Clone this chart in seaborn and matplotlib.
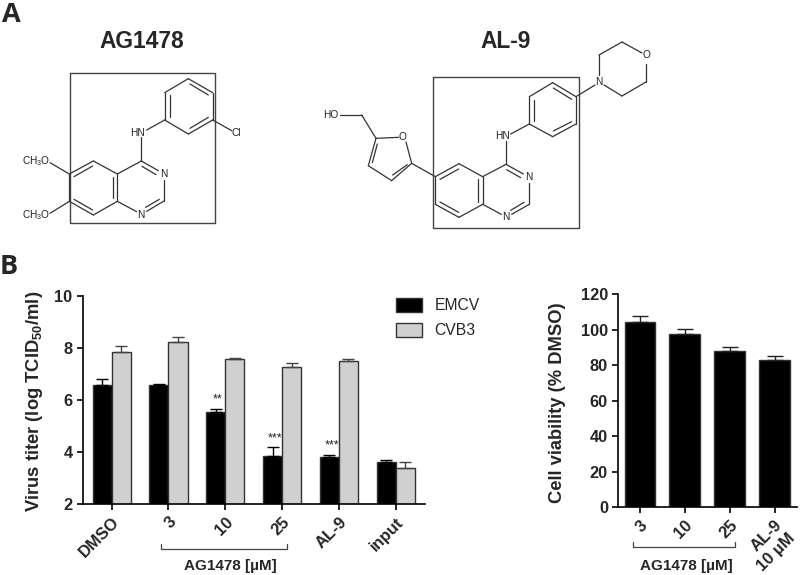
import pandas as pd
import matplotlib
matplotlib.use("Agg")
import matplotlib.pyplot as plt
import seaborn as sns

# panel B, virus titer
conditions = ["DMSO", "3", "10", "25", "AL-9", "input"]
emcv = [6.6, 6.57, 5.55, 3.85, 3.8, 3.6]
emcv_err = [0.22, 0.05, 0.12, 0.33, 0.1, 0.08]
cvb3 = [7.84, 8.23, 7.58, 7.28, 7.5, 3.4]
cvb3_err = [0.24, 0.22, 0.05, 0.14, 0.1, 0.2]
stars = ["", "", "**", "***", "***", ""]

# panel B, viability
viab_labels = ["3", "10", "25", "AL-9\n10 µM"]
viab = [104, 97.5, 88, 83]
viab_err = [3.8, 2.7, 2, 2.2]

# molecule drawings, traced in pixels of the 3x zoom crops
ag1478_bonds = [
    ((565, 236), (638, 278)), ((638, 278), (638, 360)), ((638, 360), (565, 402)),
    ((565, 402), (494, 360)), ((494, 360), (494, 278)), ((494, 278), (565, 236)),
    ((570, 252), (625, 285)), ((510, 285), (510, 350)), ((570, 385), (625, 352)),
    ((494, 360), (440, 390)), ((638, 360), (695, 392)), ((424, 412), (424, 483)),
    ((424, 483), (475, 512)), ((426, 499), (468, 524)), ((492, 540), (492, 603)),
    ((492, 603), (440, 634)), ((478, 598), (437, 622)), ((410, 635), (352, 604)),
    ((352, 604), (280, 645)), ((280, 645), (208, 604)), ((208, 604), (208, 522)),
    ((208, 522), (280, 483)), ((280, 483), (352, 522)), ((352, 522), (424, 483)),
    ((352, 522), (352, 604)), ((222, 530), (278, 498)), ((222, 598), (278, 630)),
    ((338, 530), (338, 595)), ((208, 522), (150, 488)), ((208, 604), (150, 640)),
]
ag1478_text = [("HN", 412, 398), ("Cl", 710, 398), ("N", 490, 522), ("N", 422, 645),
               ("CH$_3$O", 110, 482), ("CH$_3$O", 110, 646)]
al9_bonds = [
    ((758, 188), (828, 230)), ((828, 230), (828, 312)), ((828, 312), (758, 350)),
    ((758, 350), (688, 312)), ((688, 312), (688, 230)), ((688, 230), (758, 188)),
    ((760, 204), (815, 238)), ((702, 240), (702, 302)), ((760, 333), (815, 305)),
    ((828, 230), (885, 195)), ((688, 312), (632, 342)), ((618, 362), (618, 433)),
    ((618, 433), (670, 462)), ((620, 449), (662, 473)), ((688, 488), (688, 553)),
    ((688, 553), (635, 583)), ((672, 547), (632, 571)), ((604, 583), (548, 553)),
    ((548, 553), (477, 592)), ((477, 592), (406, 553)), ((406, 553), (406, 470)),
    ((406, 470), (477, 431)), ((477, 431), (548, 470)), ((548, 470), (618, 433)),
    ((548, 470), (548, 553)), ((420, 478), (476, 447)), ((420, 546), (476, 577)),
    ((534, 478), (534, 545)), ((406, 470), (335, 430)), ((335, 430), (318, 366)),
    ((296, 352), (228, 355)), ((228, 355), (205, 437)), ((205, 437), (275, 482)),
    ((275, 482), (335, 430)), ((232, 372), (217, 428)), ((278, 465), (322, 434)),
    ((228, 355), (185, 285)), ((185, 285), (120, 285)),
]
al9_text = [("HO", 93, 284), ("O", 308, 352), ("HN", 608, 348), ("N", 686, 470),
            ("N", 618, 590), ("N", 897, 185)]
morpholine_bonds = [
    ((599, 75), (599, 55)), ((599, 55), (622, 42)), ((622, 42), (642, 53)),
    ((646, 64), (646, 82)), ((646, 82), (622, 96)), ((622, 96), (604, 85)),
]

sns.set_style("ticks")
plt.rcParams["font.family"] = ["Liberation Sans", "DejaVu Sans"]
plt.rcParams["mathtext.fontset"] = "custom"
plt.rcParams["mathtext.rm"] = "Liberation Sans"
plt.rcParams["mathtext.bf"] = "Liberation Sans:bold"

W, H = 800, 575


def axes_px(left, right, top, bottom):
    return [left / W, 1 - bottom / H, (right - left) / W, (bottom - top) / H]


def style_axis(ax):
    sns.despine(ax=ax)
    for side in ["left", "bottom"]:
        ax.spines[side].set_linewidth(1.2)
        ax.spines[side].set_color("black")
    ax.tick_params(width=1.2, length=4.5, color="black", pad=3)
    for lab in ax.get_yticklabels():
        lab.set_fontsize(11.8)
        lab.set_fontweight("bold")
    for lab in ax.get_xticklabels():
        lab.set_fontsize(12)
        lab.set_fontweight("bold")
        lab.set_rotation(45)
        lab.set_ha("right")
        lab.set_rotation_mode("anchor")


fig = plt.figure(figsize=(8, 5.75), dpi=100)

# virus titer
ax1 = fig.add_axes(axes_px(83, 425, 296.3, 504))
titer = pd.DataFrame({
    "condition": conditions * 2,
    "virus": ["EMCV"] * 6 + ["CVB3"] * 6,
    "titer": emcv + cvb3,
})
sns.barplot(data=titer, x="condition", y="titer", hue="virus",
            palette={"EMCV": "black", "CVB3": "#d0d0d0"}, width=0.67, saturation=1,
            edgecolor="#333333", linewidth=1, errorbar=None, ax=ax1)
for cont, errs, col in zip(ax1.containers, [emcv_err, cvb3_err], ["black", "#444444"]):
    xs = [p.get_x() + p.get_width() / 2 for p in cont]
    ys = [p.get_height() for p in cont]
    ax1.errorbar(xs, ys, yerr=[[0] * len(errs), errs], fmt="none", ecolor=col,
                 elinewidth=1, capsize=4, capthick=1)
xs = [p.get_x() + p.get_width() / 2 for p in ax1.containers[0]]
for x, y, err, s in zip(xs, emcv, emcv_err, stars):
    if s:
        ax1.text(x + 0.04, y + err + 0.12, s, ha="center", va="bottom", fontsize=9, color="#222222")
ax1.set_ylim(2, 10)
ax1.set_yticks([2, 4, 6, 8, 10])
ax1.set_xlim(-0.505, 5.516)
ax1.set_xlabel("")
ax1.set_ylabel(r"Virus titer (log TCID$_{\mathbf{50}}$/ml)", fontsize=13.2, fontweight="bold")
ax1.yaxis.set_label_coords(45 / W, 1 - 401 / H, transform=fig.transFigure)
style_axis(ax1)
ax1.legend(loc="upper left", bbox_to_anchor=(396 / W, 1 - 298 / H), bbox_transform=fig.transFigure,
           frameon=False, fontsize=11.3, handlelength=1.65, handleheight=1.0, handletextpad=0.8,
           labelspacing=0.6, borderpad=0, borderaxespad=0, title=None)

# viability
ax2 = fig.add_axes(axes_px(618.3, 797, 294, 507.3))
viability = pd.DataFrame({"condition": viab_labels, "viability": viab})
sns.barplot(data=viability, x="condition", y="viability", color="black", width=0.68,
            saturation=1, edgecolor="#333333", linewidth=1, errorbar=None, ax=ax2)
ax2.errorbar(range(len(viab)), viab, yerr=[[0] * len(viab_err), viab_err], fmt="none",
             ecolor="#222222", elinewidth=1, capsize=5.5, capthick=1)
ax2.set_ylim(0, 120)
ax2.set_yticks(range(0, 121, 20))
ax2.set_xlim(-0.48, 3.5)
ax2.set_xlabel("")
ax2.set_ylabel("Cell viability (% DMSO)", fontsize=13.2, fontweight="bold")
ax2.yaxis.set_label_coords(566 / W, 1 - 403 / H, transform=fig.transFigure)
style_axis(ax2)

# overlay in pixel coordinates for the drawings, brackets and headings
over = fig.add_axes([0, 0, 1, 1], zorder=5)
over.set_xlim(0, W)
over.set_ylim(H, 0)
over.axis("off")
over.patch.set_alpha(0)


def draw_bonds(bonds, x0=0, y0=0, scale=3):
    for a, b in bonds:
        over.plot([x0 + a[0] / scale, x0 + b[0] / scale], [y0 + a[1] / scale, y0 + b[1] / scale],
                  color="#333333", lw=0.9, solid_capstyle="round")


def draw_atoms(labels, x0=0, y0=0, scale=3):
    for s, x, y in labels:
        over.text(x0 + x / scale, y0 + y / scale, s, ha="center", va="center", fontsize=7.3, color="#222222")


draw_bonds(ag1478_bonds)
draw_atoms(ag1478_text)
draw_bonds(al9_bonds, 300, 20)
draw_atoms(al9_text, 300, 20)
draw_bonds(morpholine_bonds, scale=1)
over.text(646, 55, "O", ha="center", va="center", fontsize=7.3, color="#222222")

for left, right, top, bottom in [(69.5, 215, 72.7, 222.7), (433.3, 578.7, 77.3, 228)]:
    over.plot([left, right, right, left, left], [top, top, bottom, bottom, top],
              color="#444444", lw=1)

over.text(142, 41.5, "AG1478", ha="center", va="center", fontsize=16.4, fontweight="bold")
over.text(506, 42, "AL-9", ha="center", va="center", fontsize=16.4, fontweight="bold")
over.text(2, 15, "A", ha="left", va="center", fontsize=19.5, fontweight="bold", family="Open Sans")
over.text(0, 267, "B", ha="left", va="center", fontsize=19.5, fontweight="bold", family="Open Sans")

for left, right, top, bottom, mid in [(161.3, 287.3, 544, 549, 230), (632.7, 735, 541.7, 547.3, 686.7)]:
    over.plot([left, left, right, right], [top, bottom, bottom, top], color="#444444", lw=0.9)
    over.text(mid, 566, "AG1478 [µM]", ha="center", va="center", fontsize=11, fontweight="bold")

fig.savefig("out.png", dpi=100)
